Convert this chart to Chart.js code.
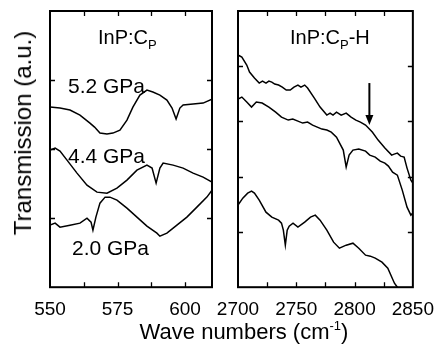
<!DOCTYPE html>
<html>
<head>
<meta charset="utf-8">
<script src="https://cdn.jsdelivr.net/npm/chart.js@4"></script>
<style>
    body { margin: 0; background: #fff; }
    #wrap { position: relative; width: 445px; height: 348px; font-family: "Liberation Sans", Arial, sans-serif; color: #000; }
    canvas { position: absolute; left: 0; top: 0; }
    .lbl { position: absolute; white-space: nowrap; line-height: 1; }
    .sub { font-size: 13px; position: relative; top: 5px; }
    .sup { font-size: 13px; position: relative; top: -9px; }
</style>
</head>
<body>
<div id="wrap">
    <canvas id="lowChart" width="445" height="348"></canvas>
    <canvas id="highChart" width="445" height="348"></canvas>

    <div class="lbl" style="left:98px; top:27px; font-size:20px;">InP:C<span class="sub">P</span></div>
    <div class="lbl" style="left:290px; top:27px; font-size:20px;">InP:C<span class="sub">P</span>-H</div>

    <div class="lbl" style="left:68px; top:75px; font-size:21px;">5.2 GPa</div>
    <div class="lbl" style="left:68px; top:145px; font-size:21px;">4.4 GPa</div>
    <div class="lbl" style="left:72px; top:237px; font-size:21px;">2.0 GPa</div>

    <div class="lbl" style="left:244px; top:321px; font-size:22px; transform:translateX(-50%);">Wave numbers (cm<span class="sup">-1</span>)</div>
    <div class="lbl" style="left:23px; top:133px; font-size:24px; transform:translate(-50%,-50%) rotate(-90deg);">Transmission (a.u.)</div>
</div>

<script>
// ---- left panel: InP:Cp, 550-610 cm-1 ----
const wave52 = [550, 553.7, 557.4, 561.1, 564.8, 566.5, 568.5, 571.1, 573.3, 575.9, 578.5, 580.7, 583.3, 585.9, 588.1, 590.7, 593.3, 595.2, 596.7, 598.1, 599.3, 603, 606.7, 610];
const trans52 = [180, 179, 177, 172, 164, 160, 154, 153, 154, 157, 167, 180, 192, 197, 195, 192, 187, 179, 168, 179, 182, 183, 184, 188];

const wave44 = [550, 551.9, 553.7, 556.3, 560, 563.7, 567.4, 571.1, 574.8, 578.5, 582.2, 585.9, 587.8, 589.3, 590.7, 591.9, 595.6, 599.3, 603, 606.7, 610];
const trans44 = [137, 139, 136, 127, 114, 102, 95, 94, 99, 107, 117, 122, 119, 104, 119, 124, 122, 119, 114, 110, 105];

const wave20 = [550, 551.9, 553.7, 557.4, 561.1, 563.7, 565.2, 565.9, 567, 568.5, 570.4, 572.2, 574.8, 578.5, 582.2, 585.9, 589.6, 590.7, 593.3, 597, 600.7, 604.4, 608.1, 610];
const trans20 = [62, 64, 60, 62, 64, 69, 65, 57, 70, 84, 90, 90, 87, 79, 70, 61, 54, 51, 54, 62, 70, 80, 90, 97];

const lowTicks = [550, 575, 600];

// ---- right panel: InP:Cp-H, 2700-2850 cm-1 ----
const waveTop = [2700, 2703.3, 2707.5, 2709.9, 2714.1, 2718.2, 2721, 2724, 2726.5, 2729, 2731.5, 2734.8, 2738, 2741.4, 2744.8, 2748, 2751.4, 2754, 2757.2, 2759.7, 2765.5, 2770.4, 2776.2, 2779, 2781.5, 2784.5, 2788.5, 2792.8, 2797, 2801.1, 2805, 2809.4, 2815.2, 2820.2, 2826, 2831.8, 2834, 2836.7, 2839.5, 2842.5, 2845, 2848.3, 2850];
const transTop = [232, 230, 222, 215, 209, 204, 206, 204, 206, 205, 203, 202, 200, 197, 197, 200, 202, 200, 202, 199, 189, 180, 172, 174, 172, 175, 172, 174, 170, 167, 165, 162, 155, 147, 139, 132, 133, 134, 131, 130, 119, 107, 104];

const waveMid = [2700, 2703.3, 2707.5, 2711.6, 2715.7, 2720.7, 2726.5, 2732.3, 2737.3, 2743.1, 2747, 2751.4, 2755.5, 2759.7, 2764, 2768, 2772, 2776.2, 2780, 2784.5, 2790.3, 2792.8, 2795.3, 2798.6, 2803.6, 2809.4, 2813, 2817.7, 2822, 2826, 2829, 2832.6, 2836.7, 2840.9, 2845, 2848.3, 2850];
const transMid = [188, 190, 185, 180, 185, 184, 180, 175, 170, 167, 168, 166, 164, 165, 162, 160, 158, 157, 155, 150, 137, 120, 132, 137, 138, 136, 132, 130, 126, 124, 121, 115, 112, 97, 80, 72, 74];

const waveLow = [2700, 2704.1, 2708.3, 2711.6, 2714.1, 2718.2, 2724, 2729, 2734.8, 2737.3, 2738.9, 2740.6, 2742.2, 2743.9, 2747.2, 2751.4, 2757.2, 2762.2, 2766.3, 2770.4, 2776.2, 2782, 2787, 2792.8, 2798.6, 2803.6, 2809.4, 2813.5, 2817.7, 2823.5, 2828.5, 2834.2, 2836.7, 2838.4];
const transLow = [82, 89, 94, 96, 94, 87, 75, 70, 67, 64, 57, 42, 57, 61, 64, 60, 65, 70, 72, 67, 57, 45, 39, 42, 44, 39, 32, 31, 29, 25, 19, 4, 0, -5];

const highTicks = [2700, 2750, 2800, 2850];

// marked mode position (arrow)
const arrowMark = { x: 2812.7, from: 204, to: 162 };

function toPoints(xs, ys) {
    return xs.map((x, i) => ({ x: x, y: ys[i] }));
}

function curve(xs, ys) {
    return {
        data: toPoints(xs, ys),
        borderColor: "#000",
        borderWidth: 1.5,
        pointRadius: 0,
        fill: false,
        tension: 0
    };
}

// box, inward ticks and the arrow
const framePlugin = {
    id: "frame",
    afterDraw(chart, args, opts) {
        const ctx = chart.ctx;
        const a = chart.chartArea;
        const sx = chart.scales.x;
        const sy = chart.scales.y;
        ctx.save();
        ctx.strokeStyle = "#000";
        ctx.lineWidth = 1.3;
        ctx.beginPath();
        for (let v = opts.xMin + opts.xStep; v < opts.xMax - 0.01; v += opts.xStep) {
            const px = Math.round(sx.getPixelForValue(v)) + 0.5;
            ctx.moveTo(px, a.bottom); ctx.lineTo(px, a.bottom - 5);
            ctx.moveTo(px, a.top); ctx.lineTo(px, a.top + 5);
        }
        for (let v = opts.yStep; v < sy.max - 1; v += opts.yStep) {
            const py = Math.round(sy.getPixelForValue(v)) + 0.5;
            ctx.moveTo(a.left, py); ctx.lineTo(a.left + 5, py);
            ctx.moveTo(a.right, py); ctx.lineTo(a.right - 5, py);
        }
        ctx.stroke();
        ctx.lineWidth = 2;
        ctx.strokeRect(a.left, a.top, a.right - a.left, a.bottom - a.top);

        if (opts.arrow) {
            const ax = sx.getPixelForValue(opts.arrow.x);
            const y1 = sy.getPixelForValue(opts.arrow.from);
            const y2 = sy.getPixelForValue(opts.arrow.to);
            ctx.lineWidth = 2;
            ctx.beginPath();
            ctx.moveTo(ax, y1);
            ctx.lineTo(ax, y2 - 8);
            ctx.stroke();
            ctx.fillStyle = "#000";
            ctx.beginPath();
            ctx.moveTo(ax - 4, y2 - 10);
            ctx.lineTo(ax + 4, y2 - 10);
            ctx.lineTo(ax, y2);
            ctx.closePath();
            ctx.fill();
        }
        ctx.restore();
    }
};

function makePanel(id, datasets, xMin, xMax, xStep, labelTicks, yStep, padding, arrow) {
    const ctx = document.getElementById(id).getContext("2d");
    return new Chart(ctx, {
        type: "line",
        data: { datasets: datasets },
        plugins: [framePlugin],
        options: {
            responsive: false,
            animation: false,
            devicePixelRatio: 1,
            layout: { padding: padding },
            plugins: {
                legend: { display: false },
                tooltip: { enabled: false },
                frame: { xMin: xMin, xMax: xMax, xStep: xStep, yStep: yStep, arrow: arrow }
            },
            scales: {
                x: {
                    type: "linear",
                    min: xMin,
                    max: xMax,
                    afterBuildTicks: axis => { axis.ticks = labelTicks.map(v => ({ value: v })); },
                    grid: { display: false, drawTicks: false },
                    border: { display: false },
                    ticks: {
                        color: "#000",
                        padding: 11,
                        maxRotation: 0,
                        autoSkip: false,
                        callback: value => String(value),
                        font: { family: "'Liberation Sans', Arial, sans-serif", size: 19 }
                    }
                },
                y: {
                    type: "linear",
                    min: 0,
                    max: 276,
                    display: false
                }
            }
        }
    });
}

makePanel("lowChart",
    [curve(wave52, trans52), curve(wave44, trans44), curve(wave20, trans20)],
    550, 610, 12.5, lowTicks, 69,
    { left: 50, right: 233, top: 11, bottom: 16 }, null);

makePanel("highChart",
    [curve(waveTop, transTop), curve(waveMid, transMid), curve(waveLow, transLow)],
    2700, 2850, 25, highTicks, 55.2,
    { left: 238, right: 26, top: 11, bottom: 16 }, arrowMark);
</script>
</body>
</html>
